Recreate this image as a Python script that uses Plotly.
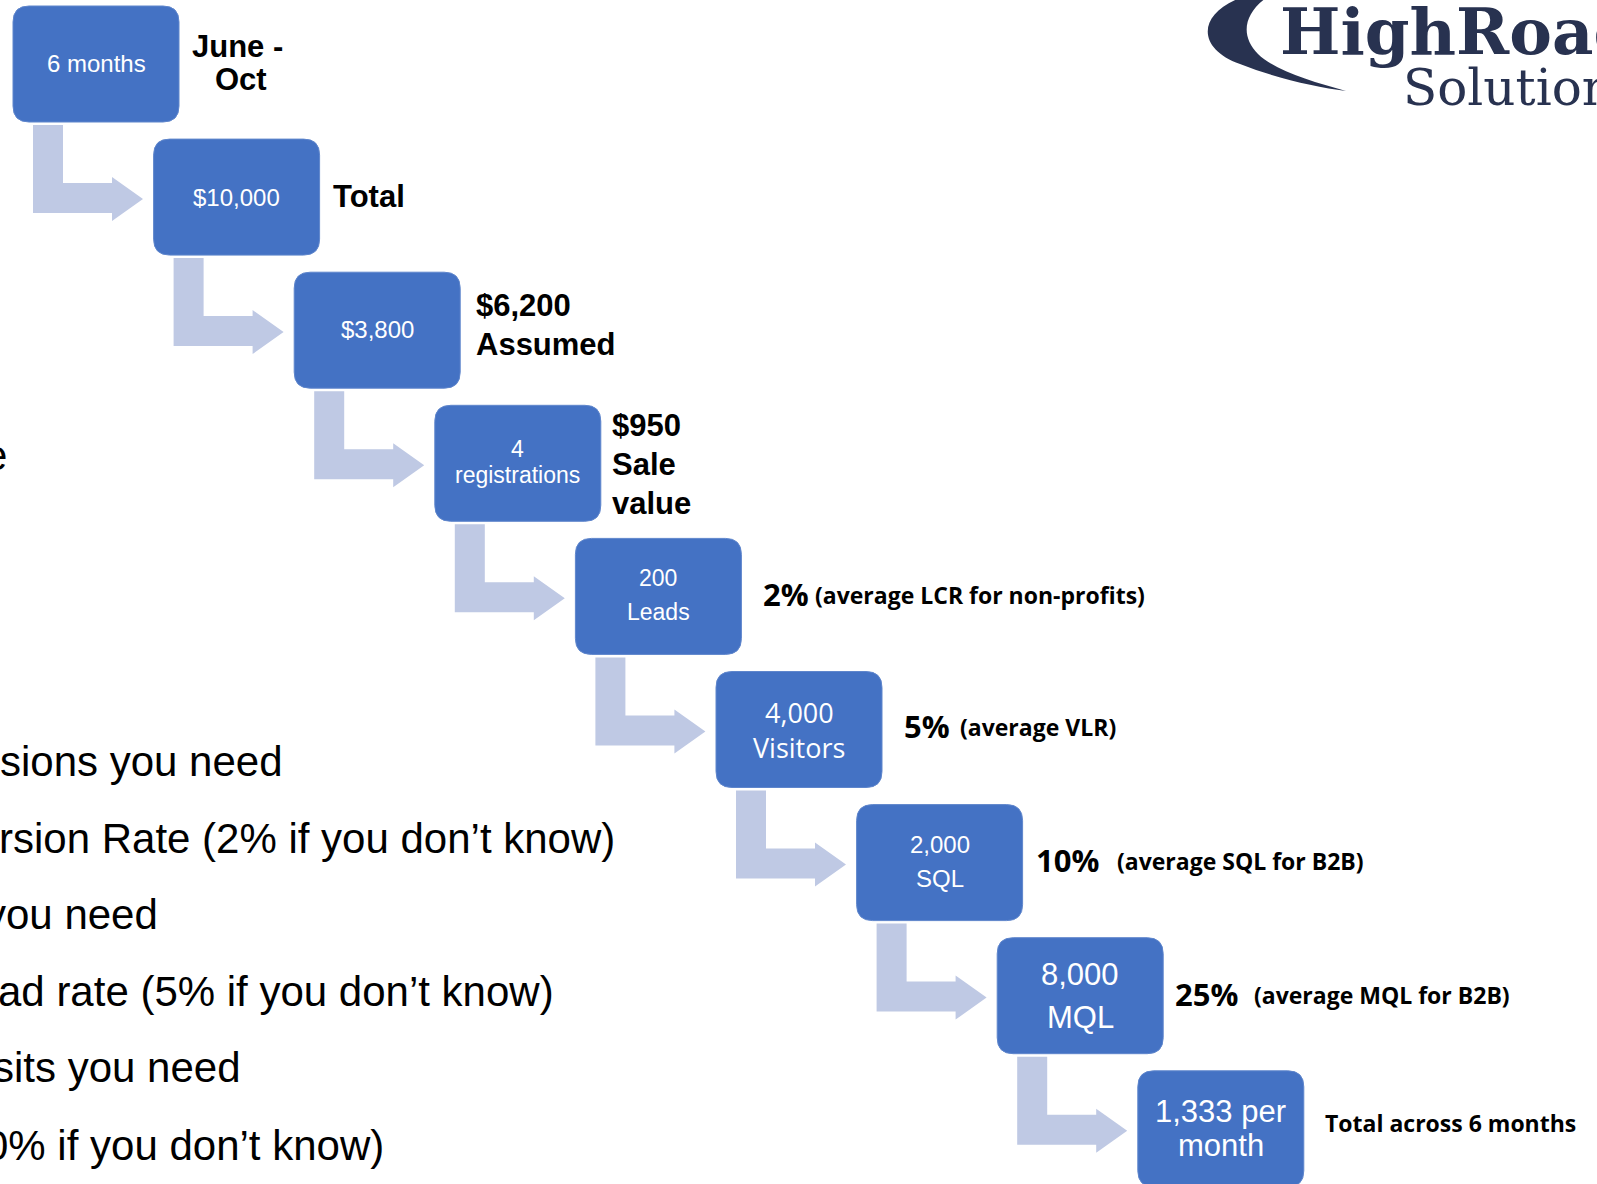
import plotly.graph_objects as go

W, H = 1597, 1184

# ---------------- data (text content) ----------------
box_labels = [
    ["6 months"],
    ["$10,000"],
    ["$3,800"],
    ["4", "registrations"],
    ["200", "Leads"],
    ["4,000", "Visitors"],
    ["2,000", "SQL"],
    ["8,000", "MQL"],
    ["1,333 per", "month"],
]
side_bold = [
    ["June -", "Oct"],
    ["Total"],
    ["$6,200", "Assumed"],
    ["$950", "Sale", "value"],
]
rates = ["2%", "5%", "10%", "25%"]
rate_notes = ["(average LCR for non-profits)", "(average VLR)",
              "(average SQL for B2B)", "(average MQL for B2B)"]
final_note = "Total across 6 months"
left_lines = ["e", "sions you need", "rsion Rate (2% if you don\u2019t know)",
              "you need", "ad rate (5% if you don\u2019t know)",
              "sits you need", "0% if you don\u2019t know)"]
logo_top = "HighRoad"
logo_bottom = "Solutions"

# ---------------- layout / style ----------------
BOX_X0, BOX_Y0, DX, DY, BW, BH, RAD = 13, 6, 140.6, 133.1, 166, 116, 16
BOX_COLOR = "#4472C4"
ARROW_COLOR = "#BFC9E4"
ARIAL = "Liberation Sans, Arial, sans-serif"
SEGOE = "Open Sans, Noto Sans, sans-serif"

box_text_style = [
    (ARIAL, 24, [-1]),
    (ARIAL, 24, [0]),
    (ARIAL, 24, [-1]),
    (ARIAL, 23, [-14, 12]),
    (ARIAL, 23, [-18, 16]),
    (SEGOE, 27, [-17, 18]),
    (ARIAL, 24, [-18, 16]),
    (ARIAL, 31, [-21, 22]),
    (ARIAL, 31, [-17, 17]),
]
# (x offset from box right edge, anchor, y offsets from box centre)
side_bold_style = [
    ([58, 62], "center", [-18, 15]),
    ([11], "left", [-1]),
    ([14, 14], "left", [-25, 14]),
    ([9, 9, 9], "left", [-38, 1, 40]),
]
rate_style = [  # (rate x off, note x off, y off)
    (20, 72, -2),
    (20, 76, -4),
    (11, 92, -3),
    (10, 89, -2),
]
left_right_x = [9, 285, 617, 160, 556, 243, 386]
left_y = [455, 761, 838, 914, 991, 1067, 1145]


def box_xy(i):
    return BOX_X0 + DX * i, BOX_Y0 + DY * i


def rrect(x0, y0, x1, y1, r):
    return (f"M {x0+r},{y0} L {x1-r},{y0} Q {x1},{y0} {x1},{y0+r} "
            f"L {x1},{y1-r} Q {x1},{y1} {x1-r},{y1} L {x0+r},{y1} "
            f"Q {x0},{y1} {x0},{y1-r} L {x0},{y0+r} Q {x0},{y0} {x0+r},{y0} Z")


def bent_arrow(x0, y0):
    pts = [(20, 119), (50, 119), (50, 177), (99, 177), (99, 171),
           (130, 193), (99, 215), (99, 207), (20, 207)]
    s = "M " + " L ".join(f"{x0+px},{y0+py}" for px, py in pts) + " Z"
    return s


shapes = []
annotations = []

n = len(box_labels)
for i in range(n):
    x0, y0 = box_xy(i)
    if i < n - 1:
        shapes.append(dict(type="path", path=bent_arrow(x0, y0), xref="x", yref="y",
                           fillcolor=ARROW_COLOR, line=dict(width=0), layer="below"))
for i in range(n):
    x0, y0 = box_xy(i)
    shapes.append(dict(type="path", path=rrect(x0, y0, x0 + BW, y0 + BH, RAD),
                       xref="x", yref="y", fillcolor=BOX_COLOR,
                       line=dict(color="#5F86CC", width=1)))
    fam, size, offs = box_text_style[i]
    cx, cy = x0 + BW / 2, y0 + BH / 2
    for line, dy in zip(box_labels[i], offs):
        annotations.append(dict(x=cx, y=cy + dy, text=line, showarrow=False,
                                xanchor="center", yanchor="middle",
                                font=dict(family=fam, size=size, color="white")))

# bold side labels for first four boxes
for i, lines in enumerate(side_bold):
    x0, y0 = box_xy(i)
    xoffs, anchor, yoffs = side_bold_style[i]
    for line, xo, yo in zip(lines, xoffs, yoffs):
        annotations.append(dict(x=x0 + BW + xo, y=y0 + BH / 2 + yo, text=line,
                                showarrow=False, xanchor=anchor, yanchor="middle",
                                font=dict(family=ARIAL, size=31, color="black",
                                          weight="bold")))

# rate labels
for k, (r, note) in enumerate(zip(rates, rate_notes)):
    i = 4 + k
    x0, y0 = box_xy(i)
    rx, nx, yo = rate_style[k]
    cy = y0 + BH / 2 + yo
    annotations.append(dict(x=x0 + BW + rx, y=cy, text=r, showarrow=False,
                            xanchor="left", yanchor="middle",
                            font=dict(family=SEGOE, size=31, color="black", weight="bold")))
    annotations.append(dict(x=x0 + BW + nx, y=cy + 1, text=note, showarrow=False,
                            xanchor="left", yanchor="middle",
                            font=dict(family=SEGOE, size=23, color="black", weight="bold")))

x0, y0 = box_xy(8)
annotations.append(dict(x=x0 + BW + 19, y=y0 + BH / 2 - 6, text=final_note, showarrow=False,
                        xanchor="left", yanchor="middle",
                        font=dict(family=SEGOE, size=23, color="black", weight="bold")))

# clipped left-column text
for t, xr, yy in zip(left_lines, left_right_x, left_y):
    annotations.append(dict(x=xr, y=yy, text=t, showarrow=False,
                            xanchor="right", yanchor="middle",
                            font=dict(family=ARIAL, size=42, color="black")))

# logo
LOGO = "#283250"
shapes.append(dict(type="path", xref="x", yref="y", fillcolor=LOGO, line=dict(width=0),
                   path="M 1240,-2 C 1198,14 1196,48 1240,64 C 1278,79 1316,87 1346,91 "
                        "C 1312,82 1274,70 1258,54 C 1240,36 1244,14 1266,-2 Z"))
annotations.append(dict(x=1278, y=31, text=logo_top, showarrow=False,
                        xanchor="left", yanchor="middle",
                        font=dict(family="DejaVu Serif", size=64, color=LOGO, weight="bold")))
annotations.append(dict(x=1401, y=88, text=logo_bottom, showarrow=False,
                        xanchor="left", yanchor="middle",
                        font=dict(family="DejaVu Serif", size=50, color=LOGO)))

fig = go.Figure()
fig.update_layout(
    width=W, height=H, margin=dict(l=0, r=0, t=0, b=0),
    paper_bgcolor="white", plot_bgcolor="white",
    xaxis=dict(range=[0, W], visible=False, fixedrange=True),
    yaxis=dict(range=[H, 0], visible=False, fixedrange=True),
    shapes=shapes, annotations=annotations, showlegend=False,
)
fig.write_html("out.html")
